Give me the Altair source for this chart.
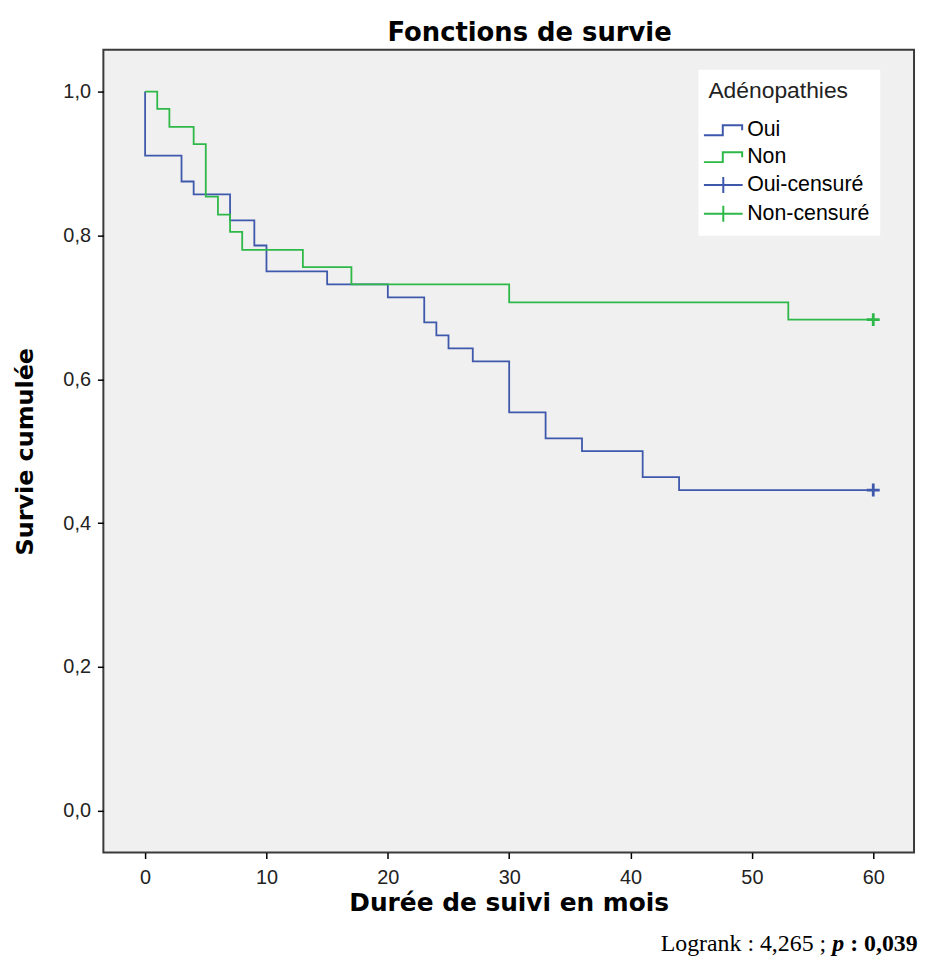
import altair as alt
import pandas as pd

# ---- data ----
oui_time = [0, 0, 3, 4, 7, 9, 10, 15, 20, 23, 24, 25, 27, 30, 33, 36, 41, 44, 60]
oui_surv = [1.0, 0.911, 0.875, 0.857, 0.821, 0.786, 0.750, 0.732, 0.714, 0.679,
            0.661, 0.643, 0.625, 0.554, 0.518, 0.500, 0.464, 0.446, 0.446]
non_time = [0, 1, 2, 4, 5, 6, 7, 8, 13, 17, 30, 53, 60]
non_surv = [1.0, 0.976, 0.951, 0.927, 0.854, 0.829, 0.805, 0.780, 0.756, 0.732,
            0.707, 0.683, 0.683]
censor_group = ["Oui", "Non"]
censor_time = [60, 60]
censor_surv = [0.446, 0.683]
legend_labels = ["Oui", "Non", "Oui-censuré", "Non-censuré"]
x_ticks = [0, 10, 20, 30, 40, 50, 60]
y_ticks = [0.0, 0.2, 0.4, 0.6, 0.8, 1.0]
chart_title = "Fonctions de survie"
logrank_parts = ["Logrank : 4,265 ;", "p", ": 0,039"]

BLUE = "#3E58AC"
GREEN = "#2EB848"

lines_df = pd.DataFrame(
    {
        "time": oui_time + non_time,
        "surv": oui_surv + non_surv,
        "group": ["Oui"] * len(oui_time) + ["Non"] * len(non_time),
        "order": list(range(len(oui_time))) + list(range(len(non_time))),
    }
)
censor_df = pd.DataFrame({"time": censor_time, "surv": censor_surv, "group": censor_group})
legend_df = pd.DataFrame({"cat": legend_labels})

stroke_scale = alt.Scale(domain=["Oui", "Non"], range=[BLUE, GREEN])

x_enc = alt.X(
    "time:Q",
    scale=alt.Scale(domain=[-3.44, 63.36], nice=False, zero=False),
    axis=alt.Axis(
        values=x_ticks, format="d", title="Durée de suivi en mois", grid=False, domain=False,
        tickSize=6, tickColor="black", tickWidth=1.5,
        labelFont="Liberation Sans", labelFontSize=20, labelColor="#222", labelPadding=9,
        labelFlush=False,
        titleFont="DejaVu Sans", titleFontSize=25, titleFontWeight="bold",
        titleColor="black", titlePadding=3,
    ),
)
y_enc = alt.Y(
    "surv:Q",
    scale=alt.Scale(domain=[-0.058, 1.058], nice=False, zero=False),
    axis=alt.Axis(
        values=y_ticks, labelExpr="replace(format(datum.value, '.1f'), '.', ',')",
        title="Survie cumulée", grid=False, domain=False,
        tickSize=6, tickColor="black", tickWidth=1.5,
        labelFont="Liberation Sans", labelFontSize=20, labelColor="#222", labelPadding=7,
        titleFont="DejaVu Sans", titleFontSize=24, titleFontWeight="bold",
        titleColor="black", titlePadding=26,
    ),
)

lines = alt.Chart(lines_df).mark_line(interpolate="step-after", strokeWidth=1.8).encode(
    x=x_enc,
    y=y_enc,
    stroke=alt.Stroke("group:N", scale=stroke_scale, legend=None),
    order="order:Q",
)

censors = alt.Chart(censor_df).mark_point(
    filled=False, shape="M-1,0H1M0,-1V1", size=169, strokeWidth=2.8, opacity=1
).encode(
    x="time:Q",
    y="surv:Q",
    stroke=alt.Stroke("group:N", scale=stroke_scale, legend=None),
)

STEP = "M-1.95,0.5H-0.05V-0.5H1.9V0"
CROSS = "M-1.95,0H1.95M0,-0.8V0.8"
leg = alt.Legend(
    title="Adénopathies", orient="none", legendX=599, legendY=20,
    fillColor="white", padding=10,
    titleFont="Liberation Sans", titleFontSize=23, titleFontWeight="normal",
    titleColor="#222", titlePadding=17,
    labelFont="Liberation Sans", labelFontSize=21.5, labelColor="black",
    symbolSize=400, symbolStrokeWidth=2, symbolOffset=4, labelOffset=13, rowPadding=5,
)
legend_layer = alt.Chart(legend_df).mark_point(filled=False, strokeWidth=2, opacity=1).encode(
    x=alt.value(-500),
    y=alt.value(-500),
    color=alt.Color("cat:N", scale=alt.Scale(domain=legend_labels, range=[BLUE, GREEN, BLUE, GREEN]),
                    legend=leg, title="Adénopathies"),
    shape=alt.Shape("cat:N", scale=alt.Scale(domain=legend_labels, range=[STEP, STEP, CROSS, CROSS]),
                    legend=leg, title="Adénopathies"),
)

title_layer = alt.Chart(pd.DataFrame({"t": [chart_title]})).mark_text(
    align="center", baseline="alphabetic", font="DejaVu Sans", fontSize=26,
    fontWeight="bold", color="black"
).encode(x=alt.value(429), y=alt.value(-9), text="t:N")

t1 = alt.Chart(pd.DataFrame({"t": [logrank_parts[0]]})).mark_text(
    align="left", baseline="alphabetic", font="Liberation Serif", fontSize=24, color="black"
).encode(x=alt.value(561), y=alt.value(907), text="t:N")
t2 = alt.Chart(pd.DataFrame({"t": [logrank_parts[1]]})).mark_text(
    align="left", baseline="alphabetic", font="Liberation Serif", fontSize=24, color="black",
    fontWeight="bold", fontStyle="italic"
).encode(x=alt.value(733.7), y=alt.value(907), text="t:N")
t3 = alt.Chart(pd.DataFrame({"t": [logrank_parts[2]]})).mark_text(
    align="left", baseline="alphabetic", font="Liberation Serif", fontSize=24, color="black",
    fontWeight="bold"
).encode(x=alt.value(751.7), y=alt.value(907), text="t:N")

chart = alt.layer(lines, censors, legend_layer, title_layer, t1, t2, t3).properties(
    width=816,
    height=808,
    padding={"left": 96, "top": 39, "right": 4, "bottom": 105},
    autosize=alt.AutoSizeParams(type="none"),
).configure(
    background="white"
).configure_view(
    fill="#F0F0F0", stroke="#3a3a3a", strokeWidth=2
)

chart.save("out.html", embed_options={"renderer": "svg", "actions": False})
